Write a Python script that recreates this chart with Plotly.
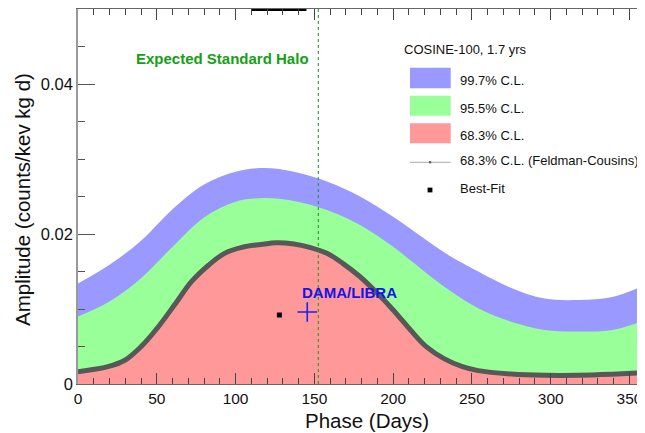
import plotly.graph_objects as go

# ---------------- data ----------------
days = [0, 20, 40, 60, 80, 100, 118, 137, 158, 179, 200, 221, 235, 254, 275, 296, 318, 339, 362]
cl997 = [0.0134, 0.0159, 0.0191, 0.0233, 0.0266, 0.0283, 0.0288, 0.0283, 0.0270, 0.0250,
         0.0223, 0.0192, 0.0172, 0.0150, 0.0128, 0.0114, 0.0112, 0.0116, 0.0134]
cl955 = [0.0090, 0.0110, 0.0141, 0.0183, 0.0222, 0.0243, 0.0248, 0.0244, 0.0232, 0.0212,
         0.0183, 0.0148, 0.0126, 0.0101, 0.0083, 0.0072, 0.0070, 0.0072, 0.0087]

fc_days = [0, 19, 30, 40, 51, 62, 72, 83, 93, 104, 116, 126, 137, 147, 158, 168, 179, 190,
           200, 211, 221, 232, 244, 254, 275, 296, 318, 339, 362]
cl683 = [0.00164, 0.00231, 0.0032, 0.00498, 0.00764, 0.01076, 0.01364, 0.01587, 0.01742,
         0.01822, 0.0186, 0.01884, 0.01867, 0.01822, 0.01742, 0.01609, 0.0143, 0.01209,
         0.00987, 0.0072, 0.00498, 0.00342, 0.00231, 0.00178, 0.00133, 0.00116, 0.00116,
         0.0013, 0.00152]

best_fit = (127.8, 0.0092)
dama = (145.5, 0.0096)
shm_phase = 152.5
top_artifact_days = [110, 122, 132, 145]
top_artifact_amp = [0.04995, 0.04995, 0.04995, 0.04995]

x_ticks = [0, 50, 100, 150, 200, 250, 300, 350]
y_ticks = [0, 0.02, 0.04]

legend_labels = ["99.7% C.L.", "95.5% C.L.", "68.3% C.L.",
                 "68.3% C.L. (Feldman-Cousins)", "Best-Fit"]
legend_title = "COSINE-100, 1.7 yrs"

# ---------------- style ----------------
# The page body has an 8px margin, so the figure is drawn 8px in from the
# window's corner; all pixel positions below are window pixels.
OFF = 8
WIN_W, WIN_H = 645, 433
W, H = WIN_W - OFF, WIN_H - OFF
PLOT_L, PLOT_R, PLOT_T, PLOT_B = 78, 645, 9, 384      # window pixels
L, R, T = PLOT_L - OFF, WIN_W - PLOT_R, PLOT_T - OFF
B = H - (PLOT_B - OFF)
PW, PH = W - L - R, H - T - B
BLUE = "rgb(153,153,255)"
GREEN = "rgb(153,255,153)"
RED = "rgb(255,153,153)"
GRAY = "rgb(88,88,88)"
FONT = "Liberation Sans, Arial, Helvetica, sans-serif"


def px(x):
    return (x - PLOT_L) / PW


def py(y):
    return (PLOT_B - y) / PH


fig = go.Figure()
fig.add_trace(go.Scatter(x=days, y=cl997, mode="lines", line=dict(width=0, shape="spline"),
                         fill="tozeroy", fillcolor=BLUE, hoverinfo="skip", showlegend=False))
fig.add_trace(go.Scatter(x=days, y=cl955, mode="lines", line=dict(width=0, shape="spline"),
                         fill="tozeroy", fillcolor=GREEN, hoverinfo="skip", showlegend=False))
fig.add_trace(go.Scatter(x=fc_days, y=cl683, mode="lines", line=dict(width=0, shape="spline"),
                         fill="tozeroy", fillcolor=RED, hoverinfo="skip", showlegend=False))
fig.add_trace(go.Scatter(x=fc_days, y=cl683, mode="lines",
                         line=dict(width=5, color=GRAY, shape="spline"),
                         showlegend=False))
fig.add_trace(go.Scatter(x=top_artifact_days, y=top_artifact_amp, mode="lines",
                         line=dict(width=3, color="black"), showlegend=False))
fig.add_trace(go.Scatter(x=[best_fit[0]], y=[best_fit[1]], mode="markers",
                         marker=dict(symbol="square", size=5, color="black"), showlegend=False))
fig.add_trace(go.Scatter(x=[dama[0]], y=[dama[1]], mode="markers",
                         marker=dict(symbol="cross-thin", size=14, color="rgb(30,30,240)",
                                     line=dict(width=1.6, color="rgb(30,30,240)")),
                         showlegend=False))

shapes = [dict(type="line", xref="x", yref="paper", x0=shm_phase, x1=shm_phase, y0=0, y1=1,
               line=dict(color="rgb(20,150,20)", width=1, dash="dot"))]
annotations = []

# legend (manual)
annotations.append(dict(text=legend_title, xref="paper", yref="paper", x=px(401.5), y=py(49.5),
                        xanchor="left", yanchor="middle", showarrow=False,
                        font=dict(family=FONT, size=13, color="#111")))
box_rows = [(67.7, 88.3, BLUE), (95.7, 115.7, GREEN), (123.3, 143.3, RED)]
label_y = [80, 108.3, 135.7, 160.5, 188.3]
for (y0, y1, c) in box_rows:
    shapes.append(dict(type="rect", xref="paper", yref="paper", x0=px(410), x1=px(450.7),
                       y0=py(y1), y1=py(y0), fillcolor=c, line=dict(width=0)))
shapes.append(dict(type="line", xref="paper", yref="paper", x0=px(410), x1=px(450.7),
                   y0=py(162.3), y1=py(162.3), line=dict(color="rgb(170,170,170)", width=1)))
shapes.append(dict(type="circle", xref="paper", yref="paper", x0=px(428.8), x1=px(431.4),
                   y0=py(163.6), y1=py(161.0), fillcolor="rgb(90,90,90)", line=dict(width=0)))
shapes.append(dict(type="rect", xref="paper", yref="paper", x0=px(427.6), x1=px(432.4),
                   y0=py(192.4), y1=py(187.6), fillcolor="black", line=dict(width=0)))
for lab, yy in zip(legend_labels, label_y):
    annotations.append(dict(text=lab, xref="paper", yref="paper", x=px(458), y=py(yy),
                            xanchor="left", yanchor="middle", showarrow=False,
                            font=dict(family=FONT, size=13, color="#111")))

# text labels
annotations.append(dict(text="<b>Expected Standard Halo</b>", xref="paper", yref="paper",
                        x=px(222.5), y=py(58.5), xanchor="center", yanchor="middle",
                        showarrow=False, font=dict(family=FONT, size=15, color="rgb(20,160,20)")))
annotations.append(dict(text="<b>DAMA/LIBRA</b>", xref="paper", yref="paper",
                        x=px(349), y=py(292.3), xanchor="center", yanchor="middle",
                        showarrow=False, font=dict(family=FONT, size=15, color="rgb(20,20,235)")))
# axis titles
annotations.append(dict(text="Phase (Days)", xref="paper", yref="paper", x=px(367), y=py(420),
                        xanchor="center", yanchor="middle", showarrow=False,
                        font=dict(family=FONT, size=20.5, color="#111")))
annotations.append(dict(text="Amplitude (counts/kev kg d)", xref="paper", yref="paper",
                        x=px(22), y=py(200), xanchor="center", yanchor="middle", textangle=-90,
                        showarrow=False, font=dict(family=FONT, size=20.5, color="#111")))

fig.update_layout(
    width=W, height=H, margin=dict(l=L, r=R, t=T, b=B, pad=0),
    paper_bgcolor="white", plot_bgcolor="white",
    shapes=shapes, annotations=annotations, showlegend=False,
    font=dict(family=FONT, color="#111"),
    xaxis=dict(range=[0, PW / 1.5757], tickvals=x_ticks, ticks="inside", ticklen=11,
               tickcolor="#444", tickwidth=1, showgrid=False, zeroline=False,
               showline=True, linecolor="#666", linewidth=1.2, mirror="ticks",
               tickfont=dict(family=FONT, size=15.5, color="#111"),
               minor=dict(dtick=10, ticks="inside", ticklen=6, tickcolor="#444", showgrid=False)),
    yaxis=dict(range=[0, 0.05], tickvals=y_ticks, ticktext=["0", "0.02", "0.04"],
               ticks="inside", ticklen=17, tickcolor="#555", tickwidth=1, showgrid=False,
               zeroline=False, showline=True, linecolor="#999", linewidth=1.5,
               tickfont=dict(family=FONT, size=16.5, color="#111"),
               minor=dict(dtick=0.005, ticks="inside", ticklen=7, tickcolor="#555", showgrid=False)),
)

fig.write_html("out.html")
